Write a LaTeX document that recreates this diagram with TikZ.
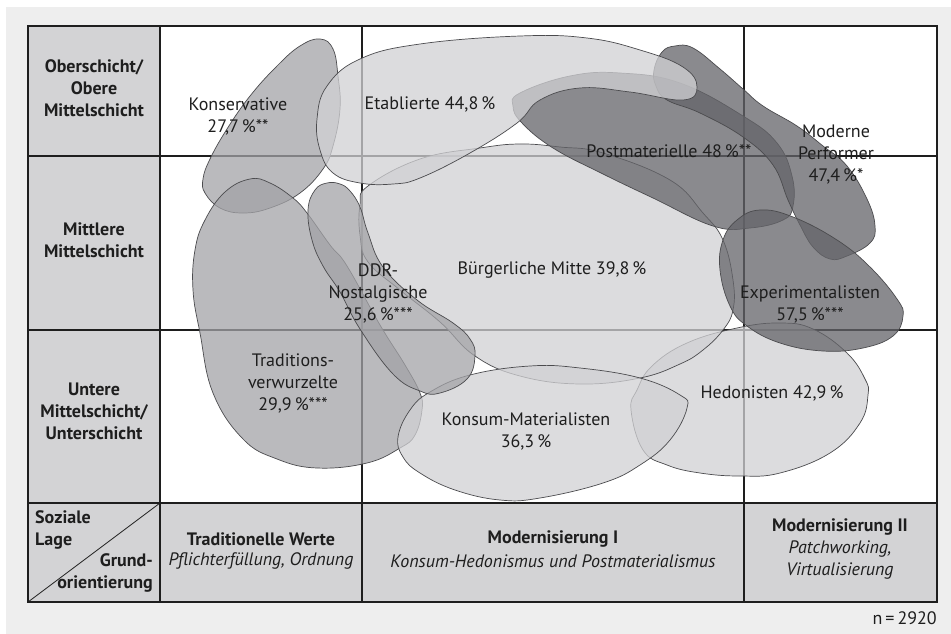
\documentclass[tikz,border=0pt]{standalone}
\usepackage{fontspec}
\setmainfont{PT Sans}
\definecolor{bgc}{RGB}{238,238,238}
\definecolor{hdrfill}{RGB}{211,211,213}
\definecolor{gridc}{RGB}{30,30,30}
\definecolor{edgec}{RGB}{75,75,78}
\definecolor{textc}{RGB}{30,30,30}
\definecolor{lightc}{RGB}{209,209,212}
\definecolor{medc}{RGB}{163,163,167}
\definecolor{darkc}{RGB}{100,100,105}
\begin{document}
\begin{tikzpicture}[x=1pt,y=-1pt,
  gridline/.style={line width=1.6pt, draw=gridc},
  blob/.style={draw=edgec, line width=0.7pt, fill opacity=0.75},
  lab/.style={font=\fontsize{18}{22}\selectfont, align=center, inner sep=0pt, text=textc},
  hdr/.style={font=\bfseries\fontsize{18}{22}\selectfont, align=center, inner sep=0pt, text=textc},
  ital/.style={font=\itshape\fontsize{18}{22}\selectfont, align=center, inner sep=0pt, text=textc}]
\useasboundingbox (0,0) rectangle (951,634);
\fill[white] (0,0) rectangle (951,634);
\fill[bgc] (6,7) rectangle (951,634);
% table
\fill[white] (160,26) rectangle (937,503);
\fill[hdrfill] (28,26) rectangle (160,503);
\fill[hdrfill] (28,503) rectangle (937,602);
\draw[gridline] (28,156) -- (937,156);
\draw[gridline] (28,330) -- (937,330);
\draw[gridline] (28,503) -- (937,503);
\draw[gridline] (160,26) -- (160,602);
\draw[gridline] (362,26) -- (362,602);
\draw[gridline] (744,26) -- (744,602);
\draw[gridline] (28,26) rectangle (937,602);
\draw[line width=0.8pt, draw=gridc] (28,602) -- (160,503);
% blobs (bottom to top)
\draw[blob, fill=medc] plot[smooth cycle, tension=0.7] coordinates {(320,39) (333,49) (338,76) (340,109) (333,146) (323,169) (300,193) (270,208) (243,213) (220,208) (205,193) (203,179) (210,159) (227,129) (250,96) (277,66) (300,46)};
\draw[blob, fill=medc] plot[smooth cycle, tension=0.7] coordinates {(250,179) (270,183) (293,198) (307,213) (330,245) (347,266) (380,325) (405,365) (420,393) (422,410) (415,435) (400,448) (367,463) (317,468) (277,459) (243,439) (213,393) (200,333) (193,290) (195,250) (205,220) (225,192)};
\draw[blob, fill=lightc] plot[smooth cycle, tension=0.7] coordinates {(631,410) (637,390) (652,366) (687,343) (737,328) (780,323) (813,329) (847,353) (865,379) (868,395) (860,423) (830,453) (780,473) (740,476) (700,473) (667,465) (643,450)};
\draw[blob, fill=lightc] plot[smooth cycle, tension=0.7] coordinates {(360,205) (368,186) (420,159) (480,148) (520,144) (560,147) (603,153) (670,180) (703,213) (723,240) (733,280) (733,310) (723,330) (703,350) (680,364) (640,378) (580,384) (520,376) (475,356) (440,322) (400,290) (368,262) (360,235)};
\draw[blob, fill=darkc] plot[smooth cycle, tension=0.7] coordinates {(513,106) (520,93) (570,76) (620,73) (680,83) (743,116) (777,143) (792,176) (793,206) (783,220) (750,228) (713,226) (653,198) (603,174) (553,148) (522,123)};
\draw[blob, fill=darkc] plot[smooth cycle, tension=0.7] coordinates {(654,70) (662,52) (675,46) (693,48) (720,69) (743,89) (763,106) (797,126) (823,146) (847,166) (867,199) (875,226) (870,243) (847,256) (830,259) (813,247) (800,225) (788,200) (773,165) (743,137) (700,113) (667,100) (656,86)};
\draw[blob, fill=darkc] plot[smooth cycle, tension=0.7] coordinates {(720,270) (723,240) (737,220) (760,210) (793,217) (837,240) (870,267) (897,299) (903,316) (893,336) (863,348) (823,351) (780,343) (747,326) (730,306)};
\draw[blob, fill=lightc] plot[smooth cycle, tension=0.7] coordinates {(398,437) (410,410) (430,392) (470,375) (530,366) (580,368) (640,378) (680,395) (687,408) (670,440) (640,465) (603,483) (540,498) (500,500) (455,490) (420,473) (403,457)};
\draw[blob, fill=medc] plot[smooth cycle, tension=0.7] coordinates {(308,210) (315,190) (327,183) (340,184) (350,191) (360,207) (368,233) (383,267) (417,300) (453,323) (470,339) (475,356) (467,379) (440,393) (420,391) (393,374) (360,329) (340,292) (323,266) (312,240)};
\draw[blob, fill=lightc] plot[smooth cycle, tension=0.7] coordinates {(317,119) (327,86) (360,59) (420,44) (520,36) (587,38) (640,50) (683,67) (697,87) (683,100) (630,92) (580,88) (540,100) (517,123) (470,153) (420,178) (393,184) (360,183) (333,173) (320,150)};
% blob labels
\node[lab] (kons) at (238,116) {Konservative\\27,7\,\%**};
\node[lab] (etab) at (430,104) {Etablierte 44,8\,\%};
\node[lab] (post) at (669,151) {Postmaterielle 48\,\%**};
\node[lab] (perf) at (836,155) {Moderne\\Performer\\47,4\,\%*};
\node[lab] (expe) at (810,304) {Experimentalisten\\57,5\,\%***};
\node[lab] (buer) at (552,270) {Bürgerliche Mitte 39,8\,\%};
\node[lab] (ddr) at (378,293) {DDR-\\Nostalgische\\25,6\,\%***};
\node[lab] (trad) at (293,383) {Traditions-\\verwurzelte\\29,9\,\%***};
\node[lab] (kmat) at (526,431) {Konsum-Materialisten\\36,3\,\%};
\node[lab] (hedo) at (772,393) {Hedonisten 42,9\,\%};
% row headers
\node[hdr] (r1) at (94,88) {Oberschicht/\\Obere\\Mittelschicht};
\node[hdr] (r2) at (94,240) {Mittlere\\Mittelschicht};
\node[hdr] (r3) at (94,411) {Untere\\Mittelschicht/\\Unterschicht};
% corner
\node[hdr, align=left, anchor=west] (soz) at (35,530) {Soziale\\Lage};
\node[hdr, align=right, anchor=east] (grund) at (153,573) {Grund-\\orientierung};
% column headers
\node[hdr] (c1) at (261,539) {Traditionelle Werte};
\node[ital] (c1b) at (261,561) {Pflichterfüllung, Ordnung};
\node[hdr] (c2) at (553,539) {Modernisierung I};
\node[ital] (c2b) at (553,561) {Konsum-Hedonismus und Postmaterialismus};
\node[hdr] (c3) at (840,527) {Modernisierung II};
\node[ital] (c3b) at (840,560) {Patchworking,\\Virtualisierung};
\node[lab, anchor=east] (n) at (937,618) {n\,=\,2920};
\end{tikzpicture}
\end{document}
